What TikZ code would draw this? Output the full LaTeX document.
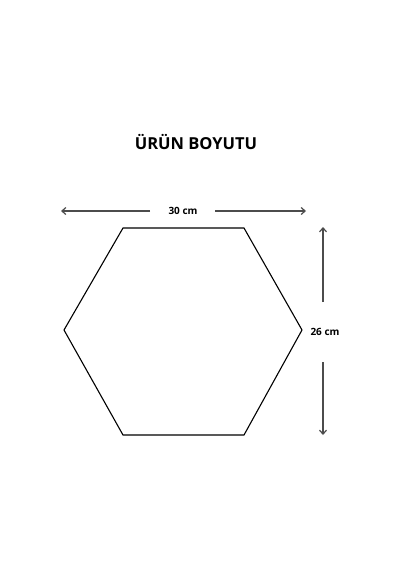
\documentclass[tikz,border=0pt]{standalone}
\usepackage{fontspec}
\setmainfont{Open Sans}
\usetikzlibrary{calc,arrows.meta}

\begin{document}
\begin{tikzpicture}[x=1pt, y=-1pt]
\useasboundingbox (0,0) rectangle (400,570);
\tikzset{dim/.style={draw=black!70, line width=1.2pt, -{Straight Barb[length=4pt,width=7pt]}},
	lbl/.style={font=\bfseries\fontsize{10}{12}\selectfont, inner sep=0pt}}

% hexagon corners
\coordinate (A) at (64,330);
\coordinate (B) at (123,228);
\coordinate (C) at (244,228);
\coordinate (D) at (302,330);
\coordinate (E) at (244,435);
\coordinate (F) at (123,435);
\draw[line width=1.1pt, line join=miter] (A) -- (B) -- (C) -- (D) -- (E) -- (F) -- cycle;

\node[font=\bfseries\fontsize{16.5}{20}\selectfont] (title) at (196,142) {ÜRÜN BOYUTU};

% width
\node[lbl] (w) at (183,211) {30 cm};
\coordinate (wl1) at (150,211);
\coordinate (wl2) at (61,211);
\coordinate (wr1) at (215,211);
\coordinate (wr2) at (306,211);
\draw[dim] (wl1) -- (wl2);
\draw[dim] (wr1) -- (wr2);

% height
\node[lbl] (h) at (325,332) {26 cm};
\coordinate (hu1) at (323,302);
\coordinate (hu2) at (323,227);
\coordinate (hd1) at (323,362);
\coordinate (hd2) at (323,435);
\draw[dim] (hu1) -- (hu2);
\draw[dim] (hd1) -- (hd2);
\end{tikzpicture}
\end{document}
